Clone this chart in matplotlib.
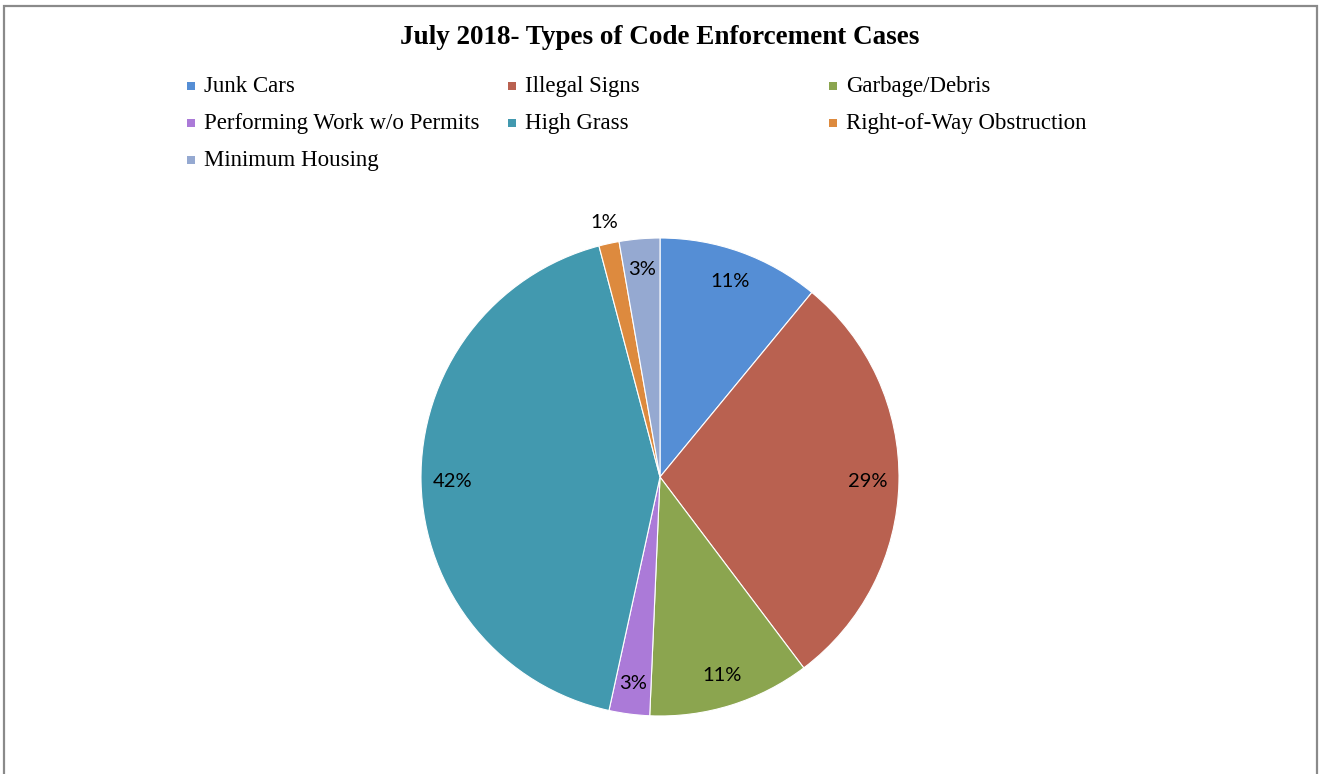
import matplotlib
matplotlib.use("Agg")
import matplotlib.pyplot as plt
from matplotlib.patches import Rectangle
import numpy as np

title = "July 2018- Types of Code Enforcement Cases"
categories = ["Junk Cars", "Illegal Signs", "Garbage/Debris", "Performing Work w/o Permits",
              "High Grass", "Right-of-Way Obstruction", "Minimum Housing"]
counts = [8, 21, 8, 2, 31, 1, 2]
colors = ["#558ED5", "#B96150", "#8BA54F", "#AB7AD8", "#4299AF", "#DD8A3E", "#95A9D1"]

W, H = 1320, 774
fig = plt.figure(figsize=(W / 100, H / 100), dpi=100)
fig.patch.set_facecolor("white")

serif = ["DejaVu Serif Condensed", "Liberation Serif", "DejaVu Serif"]
sans = ["Lato", "Open Sans", "DejaVu Sans"]

# outer border
fig.patches.append(Rectangle((4 / W, -0.05), (1317 - 4) / W, 1.05 - 6 / H,
                             transform=fig.transFigure, fill=False,
                             edgecolor="#8a8a8a", linewidth=1.6))

fig.text(660 / W, 1 - 37 / H, title, ha="center", va="center",
         fontsize=19.5, fontweight="bold", family=serif)

# legend (Excel-style fixed columns)
for i, (cat, col) in enumerate(zip(categories, colors)):
    r, c = divmod(i, 3)
    x = 191 + c * 321
    y = 86 + r * 37
    fig.patches.append(Rectangle(((x - 4) / W, 1 - (y + 4) / H), 8 / W, 8 / H,
                                 transform=fig.transFigure, facecolor=col, edgecolor="none"))
    fig.text((x + 13) / W, 1 - (y + 6) / H, cat, ha="left", va="baseline",
             fontsize=16.5, family=serif)

# pie
cx, cy, R = 660, 477, 239
ax = fig.add_axes([(cx - R) / W, (H - cy - R) / H, 2 * R / W, 2 * R / H])
wedges, texts, autotexts = ax.pie(
    counts, colors=colors, startangle=90, counterclock=False,
    autopct=lambda p: f"{p:.0f}%", pctdistance=0.87,
    wedgeprops=dict(edgecolor="white", linewidth=0.8),
    textprops=dict(fontsize=14.5, family=sans, color="black"))
total = sum(counts)
for w, t, v in zip(wedges, autotexts, counts):
    if v / total < 0.02:
        ang = np.deg2rad((w.theta1 + w.theta2) / 2)
        t.set_position((1.09 * np.cos(ang), 1.09 * np.sin(ang)))
ax.set_xlim(-1, 1)
ax.set_ylim(-1, 1)
ax.set_aspect("equal")
ax.axis("off")

fig.savefig("out.png", dpi=100, facecolor="white")
